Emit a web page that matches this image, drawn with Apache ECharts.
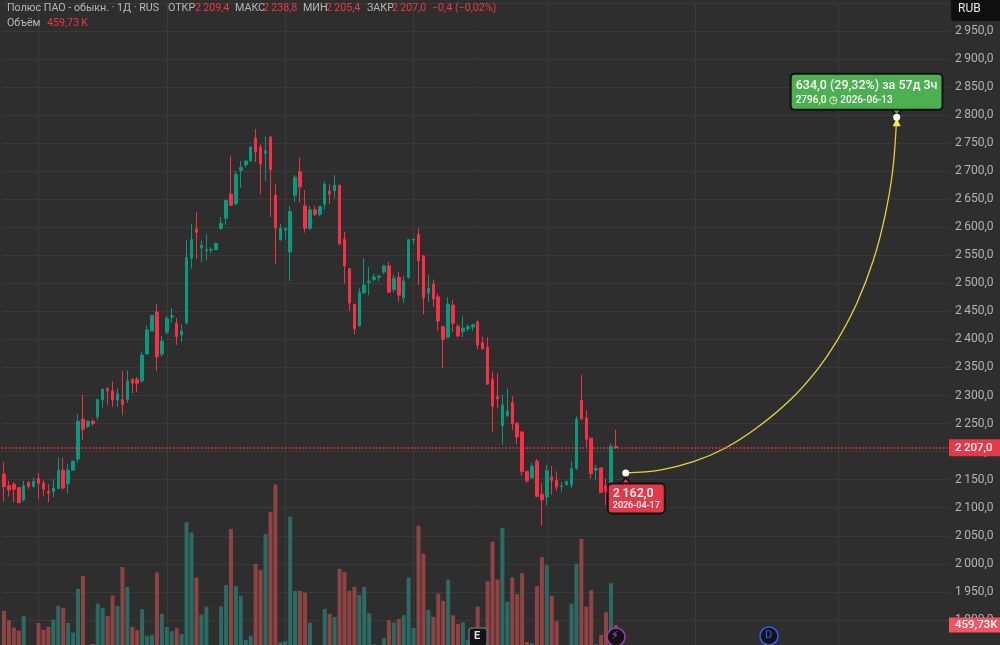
<!DOCTYPE html>
<html>
<head>
<meta charset="utf-8">
<title>Полюс ПАО</title>
<script src="https://cdn.jsdelivr.net/npm/echarts@6/dist/echarts.min.js"></script>
<style>
  html, body { margin: 0; padding: 0; background: #2e2e2e; }
  #chart { width: 1000px; height: 645px; }
</style>
</head>
<body>
<div id="chart"></div>
<script>
const opens = [2160,2139,2142,2136,2114,2145,2138,2152,2144,2129,2129,2134,2167,2143,2167,2187,2258,2245,2254,2262,2292,2312,2308,2292,2293,2293,2329,2329,2326,2374,2415,2449,2374,2413,2440,2429,2408,2429,2545,2597,2563,2558,2559,2560,2598,2616,2659,2642,2701,2711,2718,2759,2743,2732,2761,2657,2577,2595,2556,2657,2699,2638,2598,2631,2623,2641,2664,2665,2675,2579,2526,2463,2424,2483,2502,2507,2511,2520,2531,2489,2511,2474,2511,2577,2587,2549,2483,2498,2476,2423,2404,2461,2423,2414,2419,2422,2431,2394,2386,2329,2298,2246,2264,2288,2250,2235,2165,2153,2183,2124,2119,2155,2149,2138,2141,2141,2170,2291,2260,2224,2167,2171,2139,2127,2209.4]
const closes = [2137.5,2132,2133,2109,2139,2138,2147,2143,2133,2126,2135,2167,2135,2167,2183,2254,2240,2254,2250,2293,2311,2308,2292,2303,2284,2326,2322,2322,2372,2417,2443,2369,2397,2437,2442,2405,2415,2546,2578,2591,2568,2560,2560,2571,2607,2648,2639,2694,2707,2718,2743,2734,2713,2736,2703,2599,2598,2598,2628,2689,2672,2598,2631,2623,2637,2676,2659,2675,2570,2531,2465,2419,2484,2497,2504,2511,2513,2531,2484,2509,2479,2504,2578,2579,2540,2474,2491,2472,2433,2400,2463,2429,2406,2420,2423,2426,2390,2383,2320,2281,2294,2283,2272,2249,2226,2164,2148,2174,2120,2114,2166,2148,2137,2139,2147,2170,2258,2258,2222,2161,2170,2127,2129,2209,2207]
const lows = [2111,2120,2110,2109,2111,2133,2136,2115,2120,2110,2119,2134,2132,2125,2166,2180,2221,2242,2246,2256,2278,2283,2280,2280,2265,2287,2304,2306,2323,2374,2415,2344,2369,2410,2430,2390,2395,2429,2526,2543,2538,2541,2554,2560,2595,2604,2639,2639,2670,2707,2718,2716,2659,2682,2618,2534,2577,2578,2504,2645,2644,2590,2595,2620,2619,2631,2641,2651,2568,2500,2451,2409,2423,2482,2479,2504,2503,2516,2483,2484,2467,2465,2508,2570,2497,2445,2467,2458,2415,2349,2402,2413,2404,2404,2414,2415,2382,2383,2319,2236,2277,2212,2261,2239,2213,2157,2144,2152,2119,2068,2104,2123,2130,2129,2140,2135,2167,2258,2206,2152,2149,2127,2104,2123,2205.4]
const highs = [2181,2148,2146,2136,2148,2148,2153,2162,2149,2142,2151,2190,2189,2178,2184,2267,2301,2256,2258,2294,2313,2315,2325,2313,2344,2345,2330,2333,2378,2424,2443,2463,2406,2442,2456,2438,2427,2577,2606,2627,2577,2587,2564,2572,2618,2648,2726,2700,2718,2718,2743,2775,2748,2762,2762,2676,2606,2599,2637,2693,2724,2666,2638,2638,2638,2681,2676,2693,2675,2592,2527,2463,2491,2545,2529,2517,2515,2533,2538,2515,2520,2513,2578,2579,2598,2550,2515,2507,2482,2424,2475,2470,2428,2441,2427,2428,2435,2405,2404,2343,2340,2302,2312,2299,2253,2236,2166,2180,2187,2144,2176,2174,2165,2146,2148,2183,2264,2337,2274,2224,2176,2171,2152,2215,2238.8]
const volumes = [643,521,424,385,578,158,150,486,394,433,529,709,683,486,358,932,1103,170,210,739,683,578,844,709,1217,958,433,390,666,315,328,1146,604,433,377,416,341,1803,1668,1081,595,700,160,140,700,981,1716,968,840,263,319,1260,1178,1650,1943,2298,232,246,1878,906,906,880,490,180,170,670,604,565,1195,1155,906,958,853,958,613,210,150,289,519,492,538,587,1081,420,1759,1392,657,565,871,775,1054,587,473,495,263,250,700,263,1033,1549,1054,1729,765,1081,863,1138,236,219,968,1348,1243,840,512,150,140,739,1260,1585,700,915,210,328,626,1007,459.73]

// candle number at each month start, future bars included
const monthStarts = [7,33,57,83,110,140,169]

// yellow forecast arc: [candle number, price]
const arcPoints = [[126,2162],[132.9,2167],[139.7,2182],[146.1,2206],[152.5,2242],[159.3,2292],[164.7,2345],[168.7,2396],[172.8,2464],[176.2,2542],[178.5,2619],[180.1,2702],[180.9,2796]]

const headerTexts = [
  ['Полюс ПАО - обыкн. · 1Д · RUS', 7, 9, '#b8b8b8'],
  ['ОТКР', 168, 9, '#b8b8b8'],
  ['2\u2009209,4', 195, 9, '#f23645'],
  ['МАКС', 235, 9, '#b8b8b8'],
  ['2\u2009238,8', 263, 9, '#f23645'],
  ['МИН', 303, 9, '#b8b8b8'],
  ['2\u2009205,4', 326, 9, '#f23645'],
  ['ЗАКР', 367, 9, '#b8b8b8'],
  ['2\u2009207,0', 392, 9, '#f23645'],
  ['−0,4 (−0,02%)', 432, 9, '#f23645'],
  ['Объём', 7, 24, '#b8b8b8'],
  ['459,73\u2009K', 47, 24, '#f23645']
]

const FONT = 'Roboto, sans-serif'
const UP = '#089981'
const DOWN = '#f92f45'
const GRID_LINE = '#3a3a3a'
const bandCount = 192
const categories = Array.from({ length: bandCount }, (_, i) => String(i))

const candles = opens.map((o, i) => [o, closes[i], lows[i], highs[i]])
const volumeBars = volumes.map((v, i) => ({
  value: v,
  itemStyle: { color: closes[i] < opens[i] ? '#8f4343' : '#2b6b64' }
}))

const formatPrice = v => {
  const s = v.toFixed(1).replace('.', ',')
  return s.length > 5 ? s[0] + '\u2009' + s.slice(1) : s
}

const chart = echarts.init(document.getElementById('chart'), null, { renderer: 'canvas' })

chart.setOption({
  animation: false,
  backgroundColor: '#2e2e2e',
  textStyle: { fontFamily: FONT },
  grid: [
    { left: 1.5, width: 947.5, top: 2.8, height: 645.2, outerBoundsMode: 'none' },
    { left: 1.5, width: 947.5, top: 0, height: 660, outerBoundsMode: 'none' }
  ],
  xAxis: [
    { type: 'category', gridIndex: 0, data: categories, show: false },
    { type: 'value', gridIndex: 0, min: -0.5, max: bandCount - 0.5, show: false },
    { type: 'category', gridIndex: 1, data: categories, show: false }
  ],
  yAxis: [
    {
      type: 'value',
      gridIndex: 0,
      position: 'right',
      min: 1850,
      max: 3000,
      interval: 50,
      axisLine: { show: false },
      axisTick: { show: false },
      splitLine: { lineStyle: { color: GRID_LINE, width: 1 } },
      axisLabel: {
        color: '#b4b4b4',
        fontSize: 12,
        margin: 6,
        padding: [2, 0, 0, 0],
        fontFamily: FONT,
        showMinLabel: false,
        showMaxLabel: false,
        formatter: formatPrice
      }
    },
    { type: 'value', gridIndex: 1, min: 0, max: 8646, show: false }
  ],
  series: [
    {
      name: 'months',
      type: 'line',
      xAxisIndex: 1,
      yAxisIndex: 0,
      data: [],
      silent: true,
      z: 0,
      markLine: {
        z: 0,
        silent: true,
        symbol: 'none',
        label: { show: false },
        lineStyle: { color: GRID_LINE, width: 1, type: 'solid' },
        data: monthStarts.map(m => ({ xAxis: m }))
      }
    },
    {
      name: 'volume',
      type: 'bar',
      xAxisIndex: 2,
      yAxisIndex: 1,
      barWidth: 4,
      z: 1,
      data: volumeBars,
      markLine: {
        silent: true,
        symbol: 'none',
        lineStyle: { color: 'transparent' },
        label: {
          show: true,
          position: 'end',
          distance: 0,
          color: '#fff',
          fontSize: 11.5,
          fontWeight: 500,
          fontFamily: FONT,
          backgroundColor: '#f7525f',
          padding: [2, 6, 1, 6],
          formatter: '459,73K'
        },
        data: [{ yAxis: volumes[volumes.length - 1] }]
      }
    },
    {
      name: 'price',
      type: 'candlestick',
      xAxisIndex: 0,
      yAxisIndex: 0,
      barWidth: 3,
      z: 2,
      itemStyle: { color: UP, color0: DOWN, borderColor: UP, borderColor0: DOWN, borderWidth: 1 },
      data: candles,
      markLine: {
        silent: true,
        symbol: 'none',
        label: {
          show: true,
          position: 'end',
          distance: 0,
          color: '#fff',
          fontSize: 11.5,
          fontWeight: 500,
          fontFamily: FONT,
          backgroundColor: '#e8394b',
          padding: [3, 9, 2, 6],
          formatter: '2\u2009207,0'
        },
        data: [{
          yAxis: closes[closes.length - 1],
          lineStyle: { color: '#ff3448', width: 1.5, type: [1.5, 2], opacity: 1 }
        }]
      }
    },
    {
      name: 'forecast',
      type: 'line',
      xAxisIndex: 1,
      yAxisIndex: 0,
      smooth: 0.35,
      symbol: 'none',
      z: 3,
      lineStyle: { color: '#e6d23c', width: 1.3 },
      data: arcPoints,
      markPoint: {
        silent: true,
        data: [
          {
            coord: arcPoints[arcPoints.length - 1],
            symbol: 'triangle',
            symbolSize: 8,
            symbolOffset: [0, 5],
            itemStyle: { color: '#ffeb3b' },
            label: { show: false }
          },
          {
            coord: arcPoints[arcPoints.length - 1],
            symbol: 'triangle',
            symbolSize: [11, 6],
            symbolRotate: 180,
            symbolOffset: [0, -5],
            itemStyle: { color: '#4caf50', borderColor: '#111', borderWidth: 1.5 },
            label: { show: false }
          },
          {
            coord: arcPoints[0],
            symbol: 'triangle',
            symbolSize: [11, 7],
            symbolOffset: [0, 8],
            itemStyle: { color: '#e5394b', borderColor: '#111', borderWidth: 1.5 },
            label: { show: false }
          },
          {
            coord: arcPoints[arcPoints.length - 1],
            symbol: 'circle',
            symbolSize: 7,
            itemStyle: { color: '#fff' },
            label: {
              show: true,
              position: 'top',
              distance: 5,
              offset: [-105, 0],
              backgroundColor: '#4caf50',
              borderColor: '#111',
              borderWidth: 2,
              borderRadius: 3,
              padding: [3, 4, 2, 4],
              fontFamily: FONT,
              align: 'left',
              formatter: '{a|634,0 (29,32%) за 57д 3ч}\n{b|2796,0 ◷ 2026-06-13}',
              rich: {
                a: { color: '#fff', fontSize: 12.5, fontWeight: 500, lineHeight: 16, fontFamily: FONT },
                b: { color: '#fff', fontSize: 10, fontWeight: 500, lineHeight: 13, fontFamily: FONT }
              }
            }
          },
          {
            coord: arcPoints[0],
            symbol: 'circle',
            symbolSize: 7,
            itemStyle: { color: '#fff' },
            label: {
              show: true,
              position: 'bottom',
              distance: 5,
              offset: [-17, 3],
              backgroundColor: '#e5394b',
              borderColor: '#111',
              borderWidth: 2,
              borderRadius: 3,
              padding: [2, 4, 1, 4],
              fontFamily: FONT,
              align: 'left',
              formatter: '{a|2\u2009162,0}\n{b|2026-04-17}',
              rich: {
                a: { color: '#fff', fontSize: 12.5, fontWeight: 500, lineHeight: 14, fontFamily: FONT },
                b: { color: '#fff', fontSize: 9, fontWeight: 500, lineHeight: 11, fontFamily: FONT }
              }
            }
          }
        ]
      }
    }
  ],
  graphic: [
    ...headerTexts.map(t => ({
      type: 'text',
      left: t[1],
      top: t[2] - 6,
      z: 20,
      silent: true,
      style: { text: t[0], fill: t[3], fontSize: 10.7, fontFamily: FONT }
    })),
    {
      type: 'rect',
      z: 20,
      shape: { x: 951, y: -4, width: 53, height: 25, r: 4 },
      style: { fill: '#0f0f0f' }
    },
    {
      type: 'text',
      z: 21,
      left: 958,
      top: 3,
      style: { text: 'RUB', fill: '#e6e6e6', fontSize: 12, fontFamily: FONT }
    },
    {
      type: 'rect',
      z: 20,
      shape: { x: 469, y: 628, width: 18, height: 18, r: 3 },
      style: { fill: '#131313', stroke: '#6a6a6a', lineWidth: 1.5 }
    },
    {
      type: 'text',
      z: 21,
      left: 474,
      top: 631,
      style: { text: 'E', fill: '#e0e0e0', fontSize: 11, fontWeight: 'bold', fontFamily: FONT }
    },
    {
      type: 'circle',
      z: 20,
      shape: { cx: 616, cy: 637, r: 9 },
      style: { fill: '#131313', stroke: '#9c3fb5', lineWidth: 1.5 }
    },
    {
      type: 'text',
      z: 21,
      left: 611,
      top: 631,
      style: { text: '⚡', fill: '#b04fc9', fontSize: 11, fontFamily: '"DejaVu Sans"' }
    },
    {
      type: 'circle',
      z: 20,
      shape: { cx: 769, cy: 636, r: 9 },
      style: { fill: '#131313', stroke: '#2962ff', lineWidth: 1.5 }
    },
    {
      type: 'text',
      z: 21,
      left: 765,
      top: 630,
      style: { text: 'D', fill: '#2962ff', fontSize: 11, fontFamily: FONT }
    }
  ]
})
</script>
</body>
</html>
